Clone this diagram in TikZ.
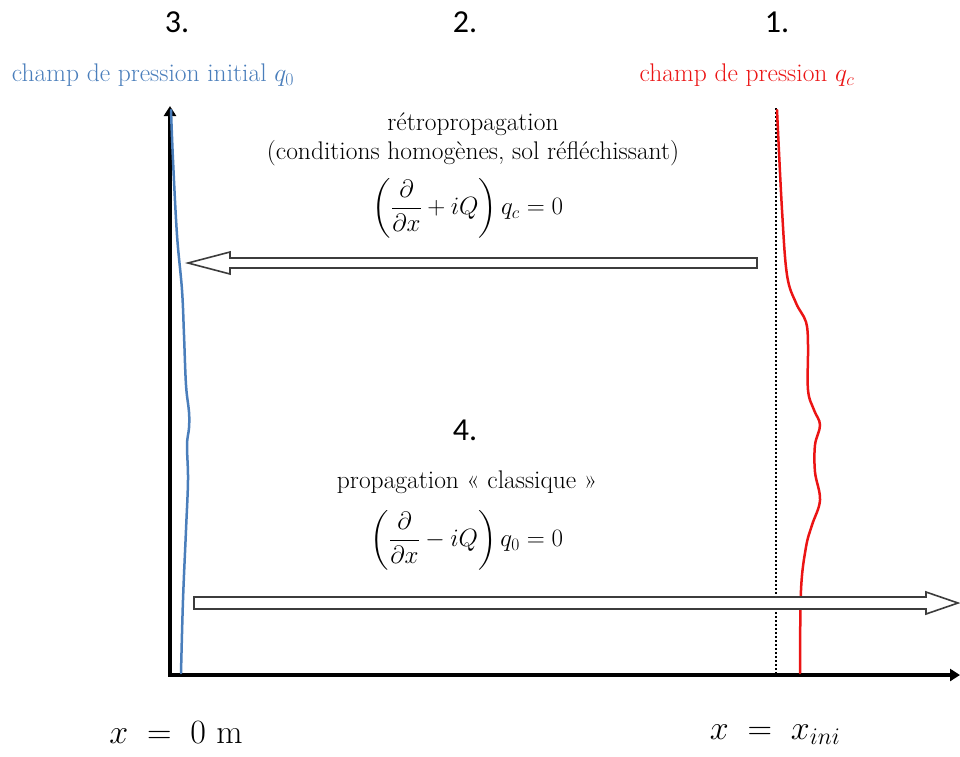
\RequirePackage{fix-cm}
\documentclass[tikz,border=0pt]{standalone}
\usepackage{amsmath}
\usepackage{fontspec}
\newfontfamily\numfont{Carlito}
\usetikzlibrary{arrows.meta}
\definecolor{cblue}{RGB}{74,126,187}
\definecolor{cred}{RGB}{235,20,20}
\definecolor{cgray}{RGB}{60,60,60}
\tikzset{
  num/.style={font=\numfont\fontsize{32}{36}\selectfont, inner sep=0pt},
  txt/.style={font=\fontsize{25.5}{29}\selectfont, inner sep=0pt, align=center},
  eqn/.style={font=\fontsize{25}{29}\selectfont, inner sep=0pt},
  big/.style={font=\fontsize{34}{40}\selectfont, inner sep=0pt},
  axis/.style={line width=4.5pt, -{Triangle[length=10pt,width=12pt]}},
  hollow/.style={draw=cgray, line width=1.6pt, fill=white, line join=miter},
}
\begin{document}
\begin{tikzpicture}[x=1pt,y=-1pt]
\useasboundingbox (0,0) rectangle (960,756);
% axes
\coordinate (O) at (170,675);
\coordinate (Ytop) at (170,106);
\coordinate (Xend) at (960,675);
\draw[axis] (O) -- (Ytop);
\draw[axis] ([xshift=-2pt]O) -- (Xend);
% dotted line
\coordinate (D1) at (776,108);
\coordinate (D2) at (776,673);
\draw[line width=2pt, dash pattern=on 2pt off 2pt] (D1) -- (D2);
% blue curve
\draw[cblue, line width=2.5pt, line cap=round] plot[smooth, tension=0.6] coordinates {
 (171,110) (173,160) (177,235) (182,290) (184,335) (186,385) (189,412) (189,428) (187,445) (188,480) (186,530) (183,600) (181,673)};
% red curve
\draw[cred, line width=2.5pt, line cap=round] plot[smooth, tension=0.6] coordinates {
 (777,110) (782,210) (787,275) (796,303) (806,322) (808,345) (808,390) (814,410) (820,425) (815,445) (815,472) (820,500) (812,525) (806,547) (801,590) (800,673)};
% hollow arrows
\draw[hollow] (757,258) -- (230,258) -- (230,252) -- (188,263) -- (230,274) -- (230,268) -- (757,268) -- cycle;
\draw[hollow] (194,597) -- (926,597) -- (926,592) -- (958,603) -- (926,614) -- (926,609) -- (194,609) -- cycle;
% labels
\node[num] (n3) at (177,22) {3.};
\node[num] (n2) at (465,22) {2.};
\node[num] (n1) at (777,22) {1.};
\node[num] (n4) at (465,430) {4.};
\node[txt, text=cblue] (l0) at (153,75) {champ de pression initial $q_0$};
\node[txt, text=cred] (lc) at (747,75) {champ de pression $q_c$};
\node[txt] (retro) at (473,139) {rétropropagation\\(conditions homogènes, sol réfléchissant)};
\node[eqn] (eq1) at (468,208) {$\left(\dfrac{\partial}{\partial x}+iQ\right)q_c=0$};
\node[txt] (prop) at (467,482) {propagation « classique »};
\node[eqn] (eq2) at (467,540) {$\left(\dfrac{\partial}{\partial x}-iQ\right)q_0=0$};
\node[big] (x0) at (176,733) {$x\;=\;0\ \mathrm{m}$};
\node[big] (xi) at (775,735) {$x\;=\;x_{ini}$};
\end{tikzpicture}
\end{document}
